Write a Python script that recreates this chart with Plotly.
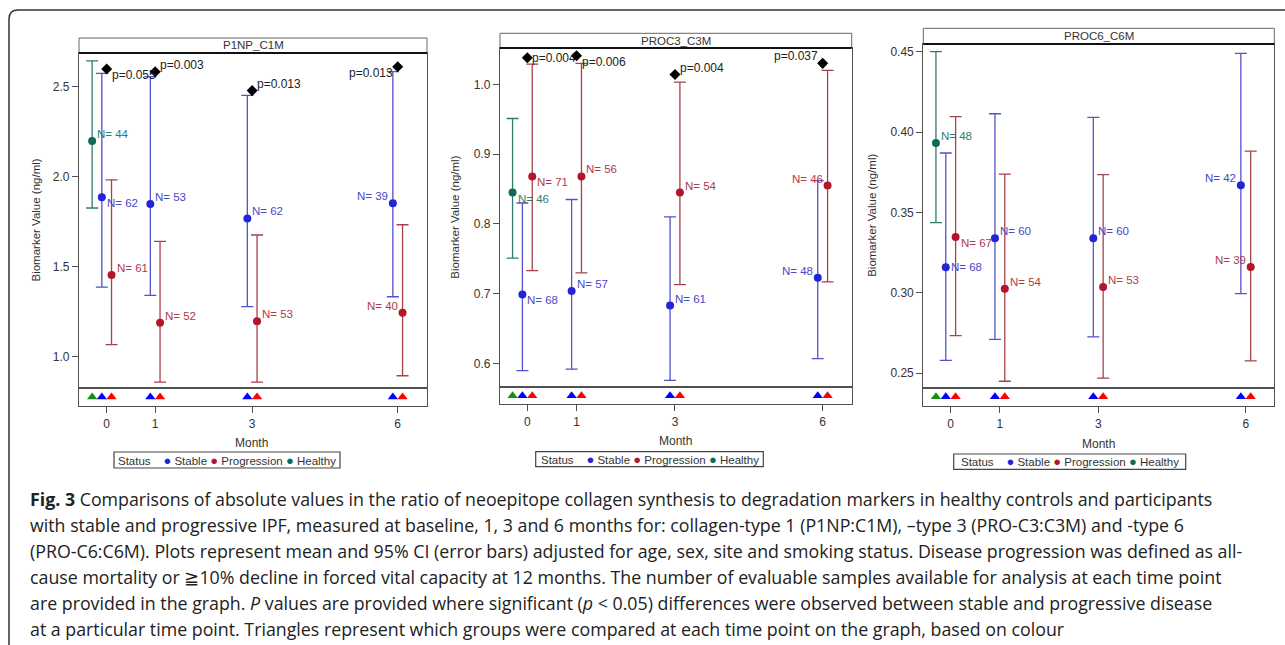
import plotly.graph_objects as go

W, H = 1285, 645

# ---------------- data ----------------
months = [0, 1, 3, 6]
panel_titles = ["P1NP_C1M", "PROC3_C3M", "PROC6_C6M"]
groups = ["Stable", "Progression", "Healthy"]

# P1NP_C1M
p1_stable_mean = [1.885, 1.848, 1.768, 1.852]
p1_stable_lo = [1.386, 1.341, 1.278, 1.333]
p1_stable_hi = [2.574, 2.556, 2.452, 2.583]
p1_stable_n = [62, 53, 62, 39]
p1_prog_mean = [1.454, 1.189, 1.197, 1.244]
p1_prog_lo = [1.067, 0.859, 0.859, 0.894]
p1_prog_hi = [1.982, 1.641, 1.676, 1.733]
p1_prog_n = [61, 52, 53, 40]
p1_healthy_mean = [2.198]
p1_healthy_lo = [1.826]
p1_healthy_hi = [2.643]
p1_healthy_n = [44]
p1_pval_text = ["p=0.055", "p=0.003", "p=0.013", "p=0.013"]
p1_pval_y = [2.598, 2.583, 2.478, 2.611]

# PROC3_C3M
p2_stable_mean = [0.699, 0.704, 0.683, 0.723]
p2_stable_lo = [0.590, 0.592, 0.576, 0.607]
p2_stable_hi = [0.830, 0.835, 0.810, 0.862]
p2_stable_n = [68, 57, 61, 48]
p2_prog_mean = [0.868, 0.868, 0.845, 0.855]
p2_prog_lo = [0.733, 0.730, 0.713, 0.717]
p2_prog_hi = [1.029, 1.030, 1.003, 1.020]
p2_prog_n = [71, 56, 54, 46]
p2_healthy_mean = [0.845]
p2_healthy_lo = [0.751]
p2_healthy_hi = [0.951]
p2_healthy_n = [46]
p2_pval_text = ["p=0.004", "p=0.006", "p=0.004", "p=0.037"]
p2_pval_y = [1.038, 1.041, 1.014, 1.030]

# PROC6_C6M
p3_stable_mean = [0.3159, 0.334, 0.334, 0.3669]
p3_stable_lo = [0.258, 0.2711, 0.2726, 0.2995]
p3_stable_hi = [0.387, 0.4114, 0.4092, 0.449]
p3_stable_n = [68, 60, 60, 42]
p3_prog_mean = [0.3348, 0.3026, 0.3037, 0.3161]
p3_prog_lo = [0.2734, 0.245, 0.2469, 0.2577]
p3_prog_hi = [0.4096, 0.3739, 0.3735, 0.3882]
p3_prog_n = [67, 54, 53, 39]
p3_healthy_mean = [0.3932]
p3_healthy_lo = [0.3437]
p3_healthy_hi = [0.450]
p3_healthy_n = [48]
p3_pval_text = []
p3_pval_y = []

p1_ticks = [1.0, 1.5, 2.0, 2.5]
p2_ticks = [0.6, 0.7, 0.8, 0.9, 1.0]
p3_ticks = [0.25, 0.30, 0.35, 0.40, 0.45]

# groups compared at each month (triangles strip)
compared_months = {"Healthy": [0], "Stable": [0, 1, 3, 6], "Progression": [0, 1, 3, 6]}

caption_lines = [
    "<b>Fig. 3</b> Comparisons of absolute values in the ratio of neoepitope collagen synthesis to degradation markers in healthy controls and participants",
    "with stable and progressive IPF, measured at baseline, 1, 3 and 6 months for: collagen-type 1 (P1NP:C1M), \u2013type 3 (PRO-C3:C3M) and -type 6",
    "(PRO-C6:C6M). Plots represent mean and 95% CI (error bars) adjusted for age, sex, site and smoking status. Disease progression was defined as all-",
    "cause mortality or \u226710% decline in forced vital capacity at 12 months. The number of evaluable samples available for analysis at each time point",
    "are provided in the graph. <i>P</i> values are provided where significant (<i>p</i> &lt; 0.05) differences were observed between stable and progressive disease",
    "at a particular time point. Triangles represent which groups were compared at each time point on the graph, based on colour",
]

# ---------------- styling / layout ----------------
FONT = "Liberation Sans, Arial, sans-serif"
offsets = {"Healthy": -0.3, "Stable": -0.1, "Progression": 0.1}
pt_color = {"Stable": "#2424d6", "Progression": "#b3162c", "Healthy": "#0f6b58"}
bar_color = {"Stable": "#5252cc", "Progression": "#a8404c", "Healthy": "#2f7d6c"}
lab_color = {"Stable": "#4848c8", "Progression": "#b03a48", "Healthy": "#2f7d6c"}
tri_color = {"Healthy": "#139013", "Stable": "#0000ff", "Progression": "#ff0000"}

# label placement codes
p1_lab = {"Stable": ["rb", "ra", "ra", "la"], "Progression": ["ra", "ra", "ra", "la"], "Healthy": ["ra"]}
p2_lab = {"Stable": ["rb", "ra", "ra", "la"], "Progression": ["rb", "ra", "ra", "la"], "Healthy": ["rb"]}
p3_lab = {"Stable": ["r", "ra", "ra", "la"], "Progression": ["rb", "ra", "ra", "la"], "Healthy": ["ra"]}
p1_plab = ["rb", "ra", "ra", "lb"]
p2_plab = ["r", "rb", "ra", "la"]
p3_plab = []

# pixel geometry of each panel: x0, x1, header top, main top, main bottom, strip bottom
geom = [
    dict(x0=79, x1=427, ht=38, mt=53, mb=388, sb=406, xr=[-0.571, 6.604], yr=[0.826, 2.687],
         ytitle_x=35, month_x=251.7, month_y=443, leg=(114, 340, 452, 468), ticks=p1_ticks, tfmt=".1f"),
    dict(x0=500, x1=851.7, ht=33.3, mt=48, mb=387.3, sb=404.3, xr=[-0.555, 6.59], yr=[0.566, 1.052],
         ytitle_x=455, month_x=675, month_y=441, leg=(535.7, 763.3, 451.7, 466.7), ticks=p2_ticks, tfmt=".1f"),
    dict(x0=923.3, x1=1274.3, ht=28.3, mt=44, mb=387.7, sb=406, xr=[-0.557, 6.58], yr=[0.241, 0.4548],
         ytitle_x=872, month_x=1098, month_y=444, leg=(953.7, 1185.7, 454, 469.3), ticks=p3_ticks, tfmt=".2f"),
]

data = [
    dict(Stable=(p1_stable_mean, p1_stable_lo, p1_stable_hi, p1_stable_n),
         Progression=(p1_prog_mean, p1_prog_lo, p1_prog_hi, p1_prog_n),
         Healthy=(p1_healthy_mean, p1_healthy_lo, p1_healthy_hi, p1_healthy_n),
         pv=(p1_pval_text, p1_pval_y), lab=p1_lab, plab=p1_plab),
    dict(Stable=(p2_stable_mean, p2_stable_lo, p2_stable_hi, p2_stable_n),
         Progression=(p2_prog_mean, p2_prog_lo, p2_prog_hi, p2_prog_n),
         Healthy=(p2_healthy_mean, p2_healthy_lo, p2_healthy_hi, p2_healthy_n),
         pv=(p2_pval_text, p2_pval_y), lab=p2_lab, plab=p2_plab),
    dict(Stable=(p3_stable_mean, p3_stable_lo, p3_stable_hi, p3_stable_n),
         Progression=(p3_prog_mean, p3_prog_lo, p3_prog_hi, p3_prog_n),
         Healthy=(p3_healthy_mean, p3_healthy_lo, p3_healthy_hi, p3_healthy_n),
         pv=(p3_pval_text, p3_pval_y), lab=p3_lab, plab=p3_plab),
]


def fx(x):
    return x / W


def fy(y):
    return 1 - y / H


def place(code):
    # returns xanchor, xshift, yshift
    return {
        "ra": ("left", 3, 7), "rb": ("left", 3, -6), "r": ("left", 3, 0),
        "la": ("right", -3, 7), "lb": ("right", -3, -6),
    }[code]


fig = go.Figure()
layout = dict(
    width=W, height=H, margin=dict(l=0, r=0, t=0, b=0),
    paper_bgcolor="white", plot_bgcolor="white", showlegend=False,
    font=dict(family=FONT, size=12, color="#333"),
)
annotations = []
shapes = []
LINE = "#505050"

for i, (g, d) in enumerate(zip(geom, data)):
    mx, my = 2 * i + 1, 2 * i + 1
    sx, sy = 2 * i + 2, 2 * i + 2
    xm = "x" if mx == 1 else f"x{mx}"
    ym = "y" if my == 1 else f"y{my}"
    xs, ys = f"x{sx}", f"y{sy}"
    xdom = [fx(g["x0"]), fx(g["x1"])]
    layout["xaxis" if mx == 1 else f"xaxis{mx}"] = dict(
        domain=xdom, range=g["xr"], anchor=ym, showgrid=False, zeroline=False,
        showticklabels=False, ticks="", showline=True, mirror=True, linecolor=LINE, linewidth=1.2)
    layout["yaxis" if my == 1 else f"yaxis{my}"] = dict(
        domain=[fy(g["mb"]), fy(g["mt"])], range=g["yr"], anchor=xm, showgrid=False, zeroline=False,
        tickvals=g["ticks"], tickformat=g["tfmt"], ticks="outside", ticklen=6, tickcolor=LINE,
        tickfont=dict(size=12, color="#333"), showline=True, mirror=True, linecolor=LINE, linewidth=1.2)
    layout[f"xaxis{sx}"] = dict(
        domain=xdom, range=g["xr"], anchor=ys, showgrid=False, zeroline=False,
        tickvals=months, ticktext=[str(m) for m in months], ticks="outside", ticklen=6, tickcolor=LINE,
        tickfont=dict(size=12, color="#333"), showline=True, mirror=True, linecolor=LINE, linewidth=1.2)
    layout[f"yaxis{sy}"] = dict(
        domain=[fy(g["sb"]), fy(g["mb"])], range=[0, 1], anchor=xs, showgrid=False, zeroline=False,
        showticklabels=False, ticks="", showline=True, mirror=True, linecolor=LINE, linewidth=1.2)

    # header box
    shapes.append(dict(type="rect", xref="paper", yref="paper", x0=fx(g["x0"]), x1=fx(g["x1"]),
                       y0=fy(g["mt"]), y1=fy(g["ht"]), line=dict(color="#666", width=1)))
    shapes.append(dict(type="line", xref="paper", yref="paper", x0=fx(g["x0"]), x1=fx(g["x1"]),
                       y0=fy(g["mt"]), y1=fy(g["mt"]), line=dict(color="#111", width=2)))
    annotations.append(dict(xref="paper", yref="paper", x=fx((g["x0"] + g["x1"]) / 2),
                            y=fy((g["ht"] + g["mt"]) / 2), text=panel_titles[i], showarrow=False,
                            xanchor="center", yanchor="middle", font=dict(size=11.5, color="#333")))

    # error bar traces
    for grp in ["Healthy", "Stable", "Progression"]:
        mean, lo, hi, n = d[grp]
        mlist = months[:len(mean)]
        xs_pts = [m + offsets[grp] for m in mlist]
        fig.add_trace(go.Scatter(
            x=xs_pts, y=mean, xaxis=xm, yaxis=ym, mode="markers",
            marker=dict(color=pt_color[grp], size=8, symbol="circle"),
            error_y=dict(type="data", symmetric=False,
                         array=[h - m for h, m in zip(hi, mean)],
                         arrayminus=[m - l for m, l in zip(mean, lo)],
                         color=bar_color[grp], thickness=1.3, width=6),
            name=grp, hoverinfo="skip"))
        for x, y, nn, code in zip(xs_pts, mean, n, d["lab"][grp]):
            xa, xsh, ysh = place(code)
            annotations.append(dict(xref=xm, yref=ym, x=x, y=y, text=f"N= {nn}", showarrow=False,
                                    xanchor=xa, yanchor="middle", xshift=xsh, yshift=ysh,
                                    font=dict(size=11.5, color=lab_color[grp])))

    # p-values
    pv_text, pv_y = d["pv"]
    if pv_text:
        fig.add_trace(go.Scatter(x=months[:len(pv_y)], y=pv_y, xaxis=xm, yaxis=ym, mode="markers",
                                 marker=dict(symbol="diamond", color="black", size=8.5),
                                 hoverinfo="skip"))
        for x, y, t, code in zip(months, pv_y, pv_text, d["plab"]):
            xa, xsh, ysh = place(code)
            annotations.append(dict(xref=xm, yref=ym, x=x, y=y, text=t, showarrow=False,
                                    xanchor=xa, yanchor="middle", xshift=xsh, yshift=ysh,
                                    font=dict(size=12, color="#222")))

    # triangles strip
    for grp in ["Healthy", "Stable", "Progression"]:
        cm = compared_months[grp]
        fig.add_trace(go.Scatter(x=[m + offsets[grp] for m in cm], y=[0.5] * len(cm),
                                 xaxis=xs, yaxis=ys, mode="markers",
                                 marker=dict(symbol="triangle-up", color=tri_color[grp], size=9),
                                 hoverinfo="skip"))

    # axis titles
    annotations.append(dict(xref="paper", yref="paper", x=fx(g["ytitle_x"]), y=fy((g["mt"] + g["mb"]) / 2),
                            text="Biomarker Value (ng/ml)", textangle=-90, showarrow=False,
                            xanchor="center", yanchor="middle", font=dict(size=11.5, color="#333")))
    annotations.append(dict(xref="paper", yref="paper", x=fx(g["month_x"]), y=fy(g["month_y"]),
                            text="Month", showarrow=False, xanchor="center", yanchor="middle",
                            font=dict(size=12, color="#333")))
    # legend box
    lx0, lx1, ly0, ly1 = g["leg"]
    shapes.append(dict(type="rect", xref="paper", yref="paper", x0=fx(lx0), x1=fx(lx1),
                       y0=fy(ly1), y1=fy(ly0), line=dict(color="#444", width=1.2)))
    leg_text = ("Status&nbsp;&nbsp;&nbsp; "
                + " ".join(f"<span style='color:{pt_color[g2]};font-size:13px'>\u25cf</span> {g2}"
                           for g2 in groups))
    annotations.append(dict(xref="paper", yref="paper", x=fx((lx0 + lx1) / 2), y=fy((ly0 + ly1) / 2),
                            text=leg_text, showarrow=False, xanchor="center", yanchor="middle",
                            font=dict(size=11.5, color="#333")))

# caption
for k, line in enumerate(caption_lines):
    annotations.append(dict(xref="paper", yref="paper", x=fx(28), y=fy(499 + 26 * k), text=line,
                            showarrow=False, xanchor="left", yanchor="middle",
                            font=dict(family="Open Sans, sans-serif", size=17.8, color="#222")))

# outer rounded border
r = 9
path = (f"M {fx(9)},{fy(650)} L {fx(9)},{fy(10 + r)} Q {fx(9)},{fy(10)} {fx(9 + r)},{fy(10)} "
        f"L {fx(1290)},{fy(10)}")
shapes.append(dict(type="path", xref="paper", yref="paper", path=path, line=dict(color="#333", width=1.5)))

layout["annotations"] = annotations
layout["shapes"] = shapes
fig.update_layout(**layout)
fig.write_html("out.html")
